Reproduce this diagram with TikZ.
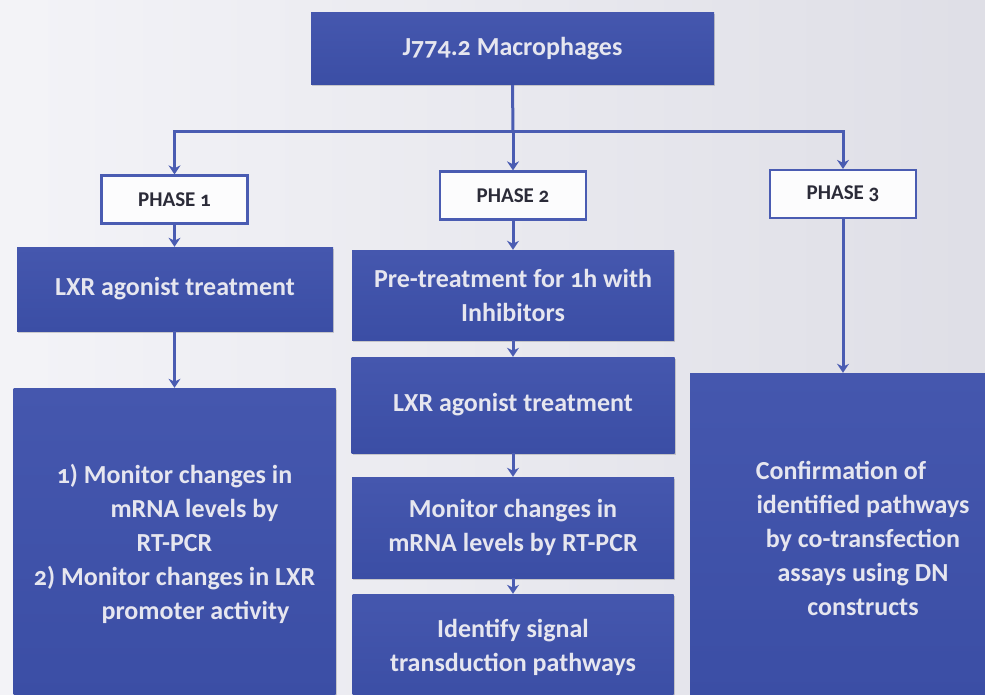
\documentclass[tikz,border=0pt]{standalone}
\usepackage{fontspec}
\setmainfont{Carlito}[Numbers=OldStyle]
\usetikzlibrary{arrows.meta,shadows}

\definecolor{boxblue}{HTML}{3B4EA5}
\definecolor{boxtop}{HTML}{4557AE}
\definecolor{linkblue}{HTML}{4A5CB2}
\definecolor{paper}{HTML}{E8E8F0}
\definecolor{boxtext}{HTML}{E6E6EF}
\definecolor{phasetext}{HTML}{2B2B38}

\begin{document}
\begin{tikzpicture}[%
x=1pt, y=-1pt,
stepbox/.style={rectangle, top color=boxtop, bottom color=boxblue, draw=none,
  text=boxtext, align=center, inner sep=0pt,
  font=\fontsize{26}{34}\selectfont\bfseries,
  drop shadow={opacity=0.35, shadow xshift=1pt, shadow yshift=-1.5pt}},
phasebox/.style={rectangle, draw=linkblue, line width=2.2pt, fill=white!85!paper,
  text=phasetext, inner sep=0pt, minimum width=146pt, minimum height=48pt,
  font=\fontsize{21}{22}\selectfont\bfseries},
link/.style={draw=linkblue, line width=3pt, -{Stealth[length=9pt,width=12pt]}},
]
\shade [left color=white!50!paper, right color=paper!96!black] (0,0) rectangle (985,695);
\useasboundingbox (0,0) rectangle (985,695);
\clip (0,0) rectangle (985,695);
%% top
\node [stepbox, minimum width=403pt, minimum height=72pt] (cells) at (512.5,49) {J774.2 Macrophages};
\coordinate (split) at (513,132);
%% phases
\node [phasebox] (ph1) at (174.5,199.5) {PHASE 1};
\node [phasebox] (ph2) at (513,195.5) {PHASE 2};
\node [phasebox] (ph3) at (843,194) {PHASE 3};
%% phase 1
\node [stepbox, minimum width=316pt, minimum height=84pt] (lxra) at (175,289) {LXR agonist treatment};
\node [stepbox, minimum width=322pt, minimum height=312pt] (mona) at (174.5,544)
  {1) Monitor changes in\\ \hspace*{40pt}mRNA levels by\\ RT-PCR\\ 2) Monitor changes in LXR\\ \hspace*{42pt}promoter activity};
%% phase 2
\node [stepbox, minimum width=322pt, minimum height=90pt] (pre) at (513,295) {Pre-treatment for 1h with\\ Inhibitors};
\node [stepbox, minimum width=323pt, minimum height=96pt] (lxrb) at (513,405) {LXR agonist treatment};
\node [stepbox, minimum width=322pt, minimum height=101pt] (monb) at (513,527.5) {Monitor changes in\\ mRNA levels by RT-PCR};
\node [stepbox, minimum width=321pt, minimum height=106pt] (ident) at (513,647) {Identify signal\\ transduction pathways};
%% phase 3
\node [stepbox, minimum width=300pt, minimum height=327pt] (conf) at (840,536.5) {};
\node [text=boxtext, align=center, font=\fontsize{26}{34}\selectfont\bfseries] (conftext) at (863,538)
  {Confirmation of\hspace*{44pt}\\ identified pathways\\ by co-transfection\\ assays using DN\\ constructs};
%% connectors
\draw [link, -] (cells.south) -- (split);
\draw [link] (split) -- (ph2.north);
\draw [link] (split) -| (ph1.north);
\draw [link] (split) -| (ph3.north);
\draw [link] (ph1.south) -- (lxra.north -| ph1.south);
\draw [link] (lxra.south -| ph1.south) -- (mona.north -| ph1.south);
\draw [link] (ph2.south) -- (pre.north);
\draw [link] (pre.south) -- (lxrb.north);
\draw [link] (lxrb.south) -- (monb.north);
\draw [link] (monb.south) -- (ident.north);
\draw [link] (ph3.south) -- (ph3.south |- conf.north);
\end{tikzpicture}
\end{document}
